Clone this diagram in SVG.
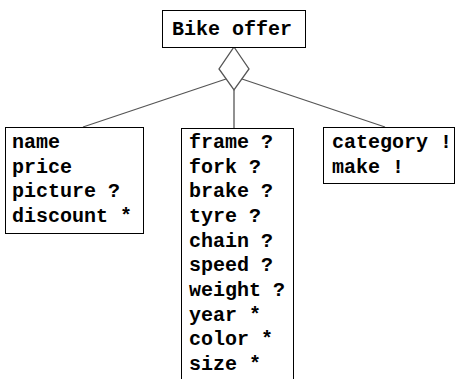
<svg xmlns="http://www.w3.org/2000/svg" width="456" height="379" viewBox="0 0 456 379">
<style>
.box{fill:#fff;stroke:#000;stroke-width:1}
.t{font-family:"Liberation Mono","Courier New",monospace;font-weight:bold;font-size:20px;fill:#000}
.c{fill:none;stroke:#555;stroke-width:1.3}
</style>
<rect width="456" height="379" fill="#fff"/>
<g id="connectors">
<polygon class="c" points="234,47 249,69 234,90 219,69" fill="#fff"/>
<line class="c" x1="226" y1="79" x2="83" y2="127"/>
<line class="c" x1="242" y1="79" x2="385" y2="127"/>
<line class="c" x1="234" y1="90" x2="234" y2="128"/>
</g>
<g id="bike-offer">
<rect class="box" x="162.5" y="10.5" width="143" height="37"/>
<text class="t" x="172" y="35">Bike offer</text>
</g>
<g id="general">
<rect class="box" x="5.5" y="127.5" width="138" height="106"/>
<text class="t" x="12" y="148">name</text>
<text class="t" x="12" y="172.7">price</text>
<text class="t" x="12" y="197.4">picture ?</text>
<text class="t" x="12" y="222">discount *</text>
</g>
<g id="parts">
<rect class="box" x="181.5" y="128.5" width="112" height="260"/>
<text class="t" x="189" y="148">frame ?</text>
<text class="t" x="189" y="172.7">fork ?</text>
<text class="t" x="189" y="197.4">brake ?</text>
<text class="t" x="189" y="222">tyre ?</text>
<text class="t" x="189" y="246.7">chain ?</text>
<text class="t" x="189" y="271.4">speed ?</text>
<text class="t" x="189" y="296">weight ?</text>
<text class="t" x="189" y="320.7">year *</text>
<text class="t" x="189" y="345.4">color *</text>
<text class="t" x="189" y="370">size *</text>
</g>
<g id="classification">
<rect class="box" x="323.5" y="127.5" width="131" height="56"/>
<text class="t" x="332" y="148">category !</text>
<text class="t" x="332" y="172.7">make !</text>
</g>
</svg>
